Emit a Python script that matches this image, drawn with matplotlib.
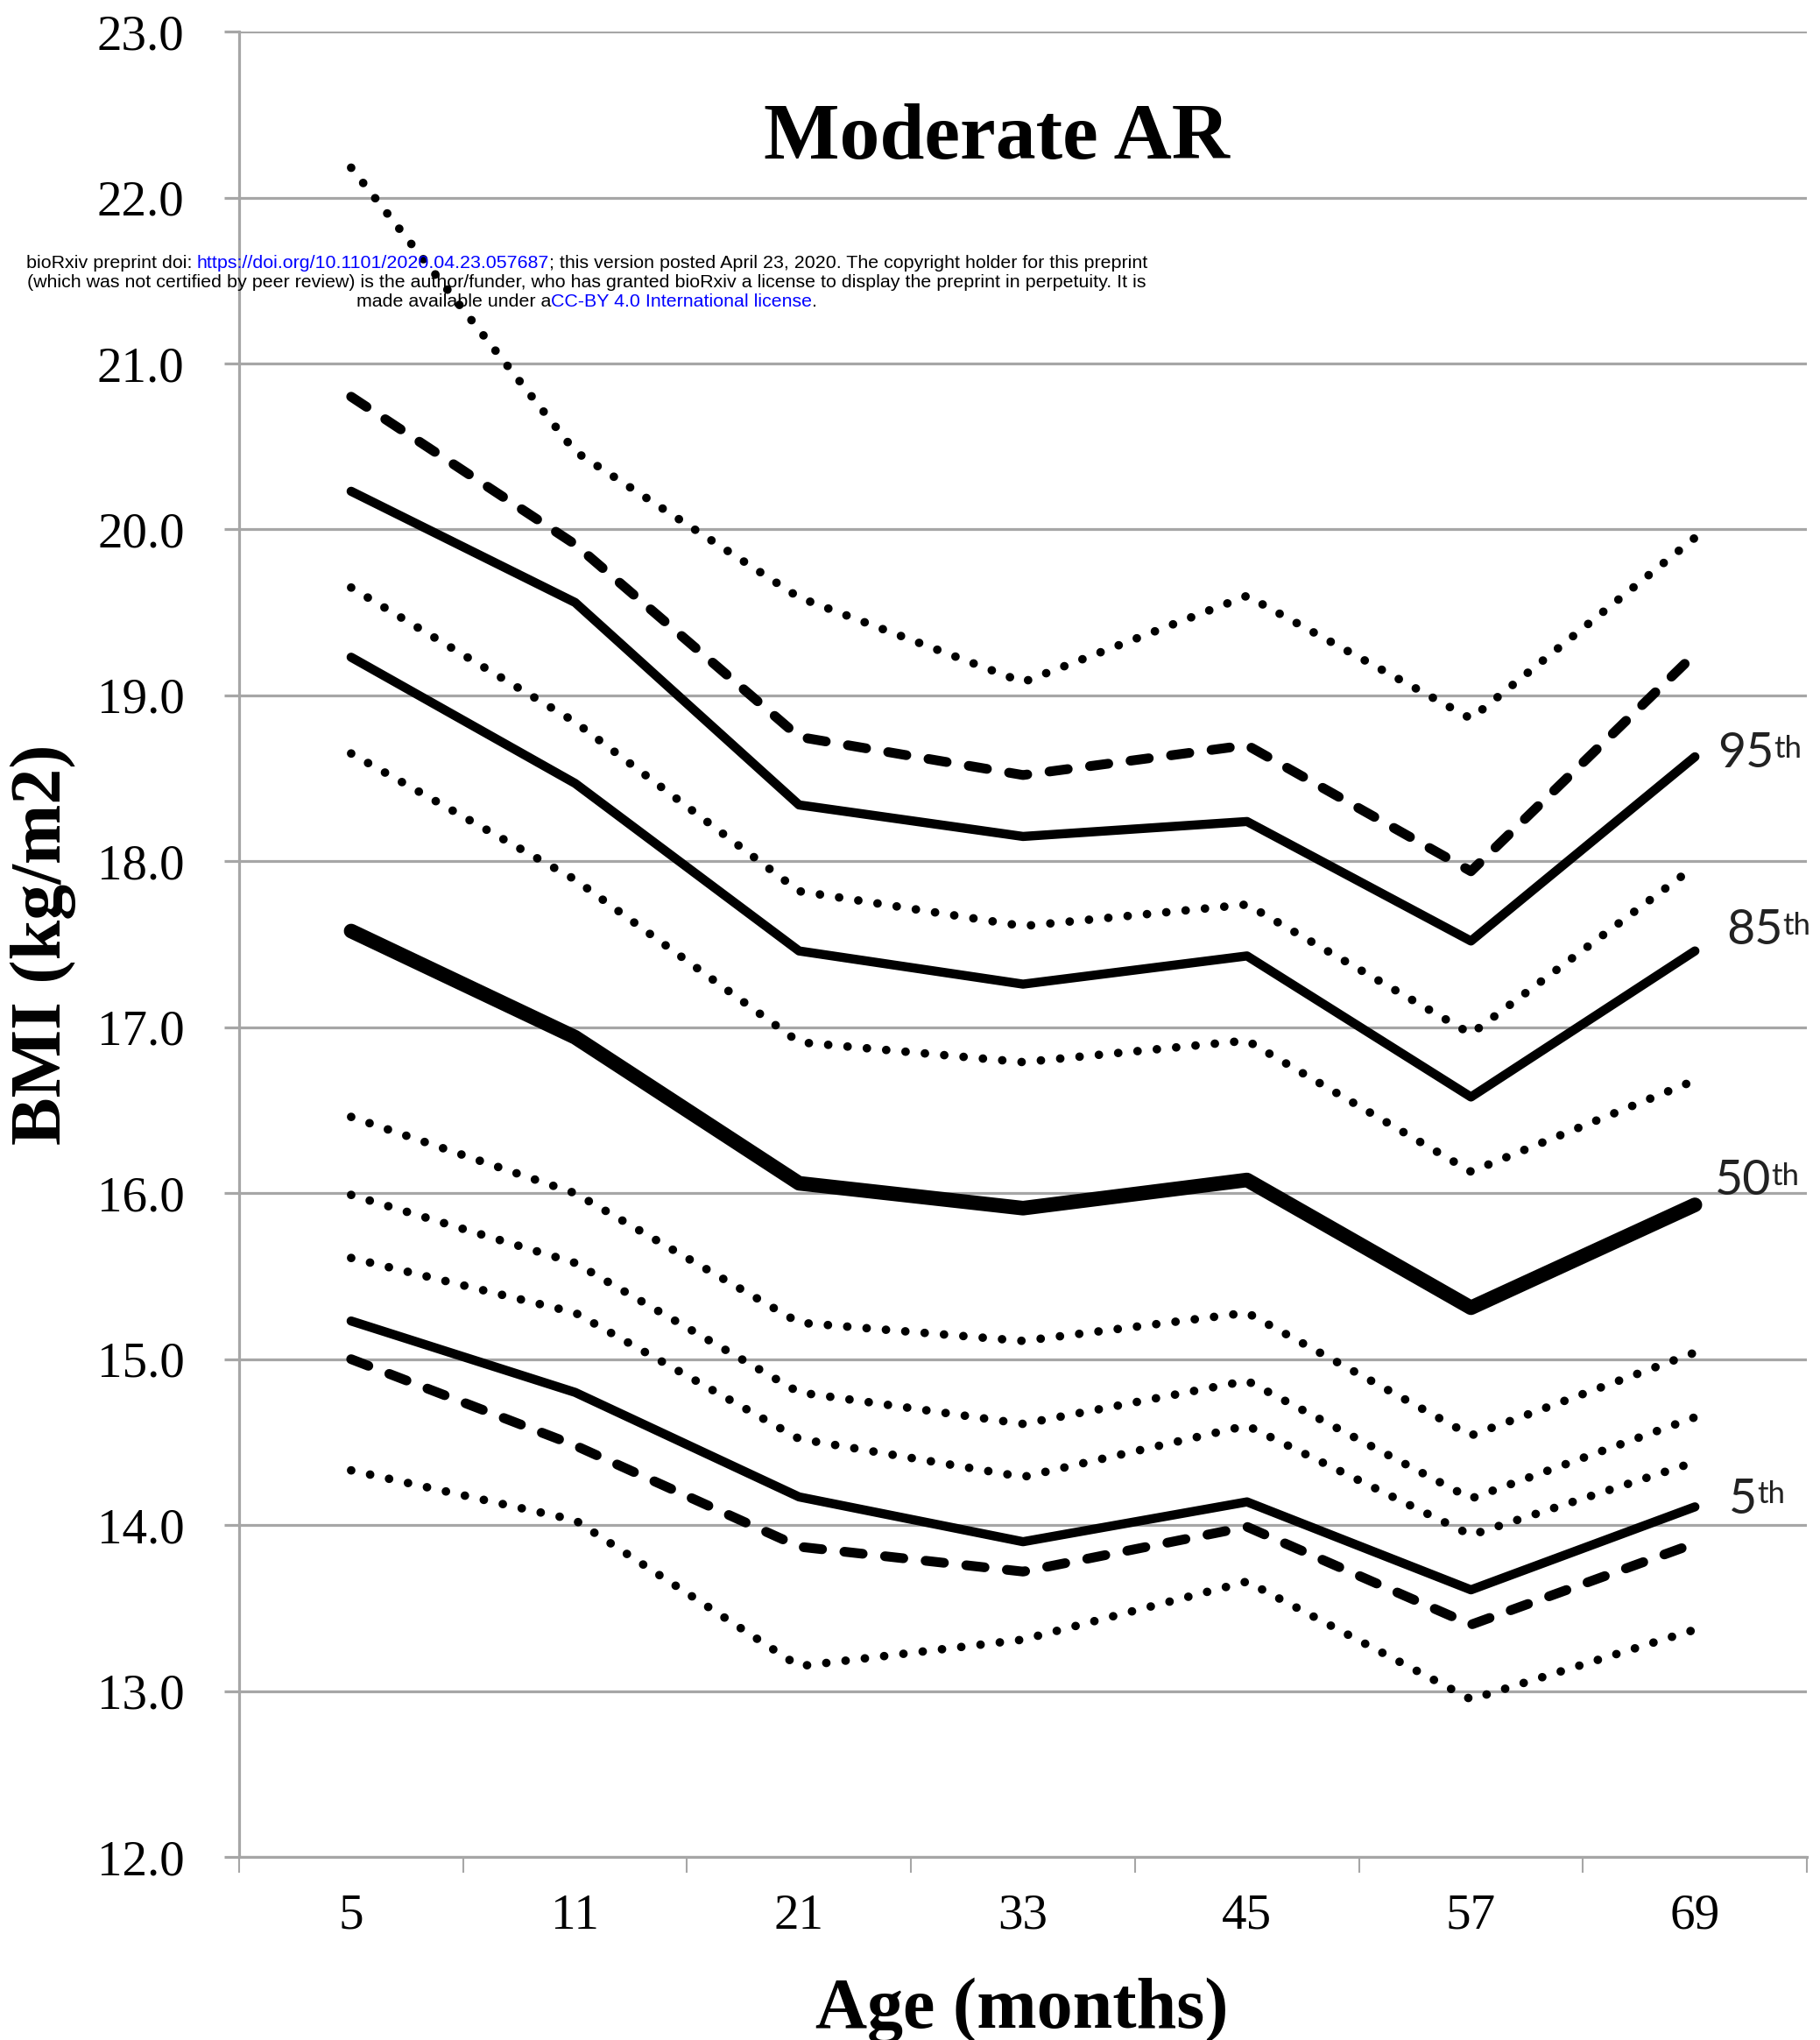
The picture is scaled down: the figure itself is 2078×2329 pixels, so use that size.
import numpy as np
import matplotlib
matplotlib.use('Agg')
import matplotlib.pyplot as plt

# ---- data (BMI curves, Moderate AR) ----
ages = ['5', '11', '21', '33', '45', '57', '69']

top_dot = [22.18, 20.47, 19.59, 19.08, 19.60, 18.86, 19.95]
top_dash = [20.80, 19.91, 18.75, 18.52, 18.70, 17.94, 19.25]
p95 = [20.23, 19.56, 18.34, 18.15, 18.24, 17.52, 18.63]
dot_b = [19.65, 18.84, 17.82, 17.61, 17.74, 16.96, 17.97]
p85 = [19.23, 18.47, 17.46, 17.26, 17.43, 16.58, 17.46]
dot_c = [18.65, 17.89, 16.91, 16.79, 16.92, 16.13, 16.68]
p50 = [17.58, 16.94, 16.06, 15.91, 16.08, 15.31, 15.93]
dot_d = [16.46, 16.00, 15.22, 15.11, 15.28, 14.54, 15.04]
dot_e = [15.99, 15.58, 14.80, 14.61, 14.87, 14.16, 14.65]
dot_f = [15.61, 15.28, 14.52, 14.29, 14.60, 13.94, 14.38]
p5 = [15.23, 14.80, 14.17, 13.90, 14.14, 13.61, 14.11]
bot_dash = [15.00, 14.48, 13.87, 13.72, 13.99, 13.40, 13.89]
bot_dot = [14.33, 14.03, 13.15, 13.31, 13.66, 12.95, 13.37]

pct_names = ['95', '85', '50', '5']
y_ticks = np.arange(12, 23.5, 1.0)

# ---- styles ----
grid_c = '#a6a6a6'
serif = 'Liberation Serif'
DOT = dict(color='black', lw=7, ls=(0, (0.01, 2.27)), dash_capstyle='round')
DASH = dict(color='black', lw=8, ls=(0, (1.9, 2.3)), dash_capstyle='round')
SOLID = dict(color='black', lw=7.5, solid_capstyle='round', solid_joinstyle='round')
THICK = dict(color='black', lw=12, solid_capstyle='round', solid_joinstyle='round')

fig = plt.figure(figsize=(20.78, 23.29), dpi=100)
ax = fig.add_axes([0.1314, 0.0897, 0.8614, 0.8948])

xs = np.arange(len(ages))
series = [
    (top_dot, DOT), (top_dash, DASH), (p95, SOLID), (dot_b, DOT),
    (p85, SOLID), (dot_c, DOT), (p50, THICK), (dot_d, DOT),
    (dot_e, DOT), (dot_f, DOT), (p5, SOLID), (bot_dash, DASH), (bot_dot, DOT),
]
for vals, st in series:
    ax.plot(xs, vals, clip_on=False, zorder=3, **st)

ax.set_xlim(-0.5, 6.5)
ax.set_ylim(12, 23)
ax.set_yticks(y_ticks)
ax.set_yticklabels(['%.1f' % v for v in y_ticks], fontfamily=serif, fontsize=41)
ax.yaxis.grid(True, color=grid_c, lw=2.3)
ax.set_axisbelow(True)

ax.set_xticks(np.arange(-0.5, 7, 1))
ax.set_xticklabels([])
ax.set_xticks(xs, minor=True)
ax.set_xticklabels(ages, minor=True, fontfamily=serif, fontsize=41)
ax.tick_params(axis='x', which='major', length=13, width=1.5, color=grid_c)
ax.tick_params(axis='x', which='minor', length=0, pad=30)
ax.tick_params(axis='y', length=12, width=2.3, color=grid_c, pad=33)

for s in ['top', 'right']:
    ax.spines[s].set_visible(False)
ax.spines['left'].set_color(grid_c)
ax.spines['left'].set_linewidth(2.3)
ax.spines['bottom'].set_color(grid_c)
ax.spines['bottom'].set_linewidth(2.3)

# percentile labels at the right end
label_pos = [(6.10, 18.565), (6.14, 17.50), (6.09, 15.99), (6.15, 14.07)]
for name, (lx, ly) in zip(pct_names, label_pos):
    t = ax.text(lx, ly, name, fontfamily='Lato', fontsize=40, color='#222222',
                ha='left', va='baseline')
    ax.annotate('th', xy=(1.0, 0.93), xycoords=t, fontfamily='Lato', fontsize=25,
                color='#222222', ha='left', va='top')

# titles
fig.text(1138 / 2078, 1 - 181 / 2329, 'Moderate AR', fontfamily=serif,
         fontweight='bold', fontsize=66, ha='center', va='baseline')
fig.text(1167 / 2078, 1 - 2315 / 2329, 'Age (months)', fontfamily=serif,
         fontweight='bold', fontsize=59, ha='center', va='baseline')
fig.text(49 / 2078, 1 - 1078 / 2329, 'BMI (kg/m2)', fontfamily=serif,
         fontweight='bold', fontsize=59, ha='center', va='center', rotation=90)

# bioRxiv header, pieces coloured, centred lines
header = [
    [('bioRxiv preprint doi: ', 'black'),
     ('https://doi.org/10.1101/2020.04.23.057687', '#0000ff'),
     ('; this version posted April 23, 2020. The copyright holder for this preprint', 'black')],
    [('(which was not certified by peer review) is the author/funder, who has granted '
      'bioRxiv a license to display the preprint in perpetuity. It is', 'black')],
    [('made available under a', 'black'),
     ('CC-BY 4.0 International license', '#0000ff'),
     ('.', 'black')],
]
head_y = [301, 323, 345]
cx = 670
r = fig.canvas.get_renderer()
for pieces, yy in zip(header, head_y):
    txts = []
    for s, c in pieces:
        txts.append(fig.text(0, 1 - yy / 2329, s, color=c, fontfamily='Liberation Sans',
                             fontsize=15.4, ha='left', va='center', zorder=10))
    widths = [t.get_window_extent(renderer=r).width for t in txts]
    x0 = cx - sum(widths) / 2
    for t, w in zip(txts, widths):
        t.set_x(x0 / 2078)
        x0 += w

fig.savefig('out.png', dpi=100)
